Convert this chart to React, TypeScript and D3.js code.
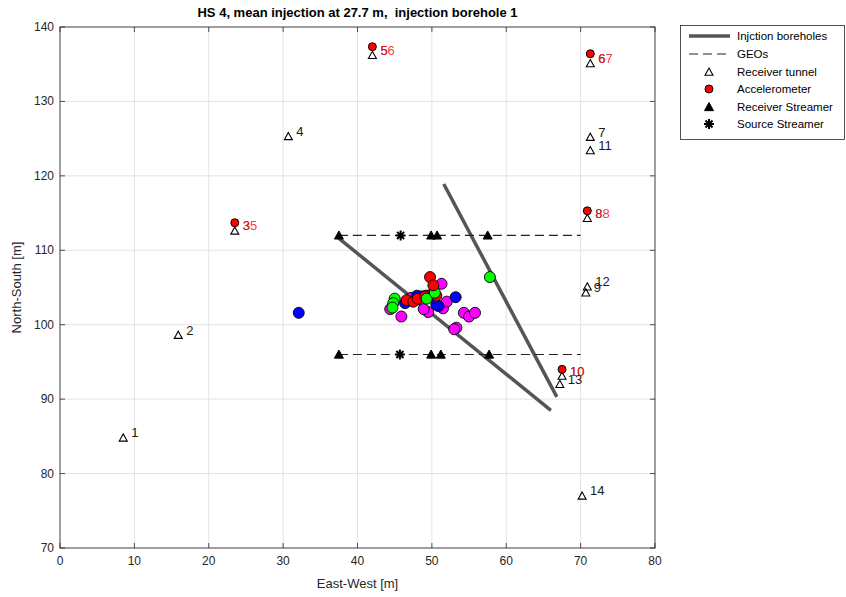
import React from "react";
import * as d3 from "d3";

const TITLE = "HS 4, mean injection at 27.7 m,  injection borehole 1";
const X_TICKS = [0, 10, 20, 30, 40, 50, 60, 70, 80];
const Y_TICKS = [70, 80, 90, 100, 110, 120, 130, 140];

// Receiver tunnel [x, y, label]
const RECEIVERS: [number, number, string][] = [
  [8.5, 84.8, "1"],
  [15.9, 98.6, "2"],
  [23.5, 112.6, "3"],
  [30.7, 125.3, "4"],
  [42.0, 136.2, "5"],
  [71.3, 135.1, "6"],
  [71.3, 125.2, "7"],
  [70.9, 114.3, "8"],
  [70.7, 104.3, "9"],
  [67.5, 93.1, "10"],
  [71.3, 123.4, "11"],
  [70.9, 105.1, "12"],
  [67.2, 92.0, "13"],
  [70.2, 77.0, "14"],
];

// Accelerometers [x, y, label]
const ACCELS: [number, number, string][] = [
  [23.5, 113.7, "35"],
  [42.0, 137.35, "56"],
  [71.3, 136.4, "67"],
  [70.9, 115.3, "88"],
  [67.5, 94.0, "10"],
];

const STREAMER_RX: [number, number][] = [
  [37.5, 112], [49.9, 112], [50.7, 112], [57.5, 112],
  [37.5, 96], [49.9, 96], [51.2, 96], [57.7, 96],
];
const STREAMER_SRC: [number, number][] = [
  [45.8, 112], [45.7, 96],
];
const GEOS: [number, number][][] = [
  [[37.5, 112], [70, 112]],
  [[37.5, 96], [70, 96]],
];
const BOREHOLES: [number, number][][] = [
  [[37.5, 111.6], [66.0, 88.5]],
  [[51.6, 118.9], [66.8, 90.3]],
];

// Events [x, y, colour class]
const EVENTS: [number, number, string][] = [
  [32.1, 101.6, "b"],
  [57.8, 106.4, "g"],
  [53.3, 99.6, "m"],
  [53.0, 99.4, "m"],
  [54.3, 101.6, "m"],
  [55.0, 101.1, "m"],
  [55.8, 101.6, "m"],
  [45.9, 101.1, "m"],
  [44.4, 102.1, "m"],
  [49.5, 101.7, "m"],
  [48.9, 102.1, "m"],
  [51.5, 102.2, "m"],
  [52.0, 103.1, "m"],
  [53.2, 103.7, "b"],
  [50.9, 102.5, "b"],
  [50.6, 102.7, "b"],
  [46.4, 102.9, "b"],
  [47.2, 103.6, "m"],
  [48.6, 103.8, "b"],
  [49.8, 104.0, "m"],
  [48.0, 103.9, "b"],
  [49.2, 103.9, "m"],
  [50.3, 103.6, "b"],
  [47.8, 103.3, "m"],
  [50.6, 103.9, "r"],
  [46.6, 103.3, "r"],
  [47.5, 103.1, "r"],
  [48.1, 103.5, "r"],
  [49.1, 103.8, "r"],
  [45.0, 103.5, "g"],
  [44.8, 102.9, "g"],
  [44.7, 102.3, "g"],
  [49.3, 103.5, "g"],
  [50.4, 104.3, "g"],
  [51.3, 105.5, "m"],
  [49.75, 106.4, "r"],
  [50.2, 105.3, "r"],
];

const COLORS: Record<string, string> = {
  r: "#ff0000",
  g: "#00ff00",
  b: "#0000ff",
  m: "#ff00ff",
};

const FONT = "'Liberation Sans', Arial, Helvetica, sans-serif";
const AX = "#262626";

const W = 846;
const H = 597;
const PL = 60, PR = 655, PT = 27, PB = 548;

function triPath(cx: number, cy: number, s: number) {
  const h = s * 0.9;
  return `M${cx},${cy - h * 0.55}L${cx + s / 2},${cy + h * 0.45}L${cx - s / 2},${cy + h * 0.45}Z`;
}

function starPath(cx: number, cy: number, r: number) {
  let p = "";
  for (let i = 0; i < 4; i++) {
    const a = (i * Math.PI) / 4;
    const dx = Math.cos(a) * r, dy = Math.sin(a) * r;
    p += `M${cx - dx},${cy - dy}L${cx + dx},${cy + dy}`;
  }
  return p;
}

export default function App() {
  const x = d3.scaleLinear().domain([0, 80]).range([PL, PR]);
  const y = d3.scaleLinear().domain([70, 140]).range([PB, PT]);
  const line = d3.line<[number, number]>().x((d) => x(d[0])).y((d) => y(d[1]));

  const legY = [36, 54, 72, 89, 107, 124];
  const legItems = [
    "Injction boreholes",
    "GEOs",
    "Receiver tunnel",
    "Accelerometer",
    "Receiver Streamer",
    "Source Streamer",
  ];

  return (
    <div style={{ position: "absolute", left: 0, top: 0 }}>
      <svg width={W} height={H} style={{ display: "block", fontFamily: FONT }}>
        <rect x={0} y={0} width={W} height={H} fill="#fff" />
        <rect x={PL} y={PT} width={PR - PL} height={PB - PT} fill="#fff" />
        {/* grid */}
        {X_TICKS.map((t) => (
          <line key={"gx" + t} x1={x(t)} x2={x(t)} y1={PT} y2={PB} stroke="#e3e3e3" strokeWidth={1} />
        ))}
        {Y_TICKS.map((t) => (
          <line key={"gy" + t} x1={PL} x2={PR} y1={y(t)} y2={y(t)} stroke="#e3e3e3" strokeWidth={1} />
        ))}
        {/* box */}
        <rect x={PL} y={PT} width={PR - PL} height={PB - PT} fill="none" stroke={AX} strokeWidth={0.8} />
        {/* ticks */}
        {X_TICKS.map((t) => (
          <g key={"tx" + t}>
            <line x1={x(t)} x2={x(t)} y1={PB} y2={PB - 5} stroke={AX} strokeWidth={0.8} />
            <line x1={x(t)} x2={x(t)} y1={PT} y2={PT + 5} stroke={AX} strokeWidth={0.8} />
            <text x={x(t)} y={PB + 17} fontSize={12} fill={AX} textAnchor="middle">{t}</text>
          </g>
        ))}
        {Y_TICKS.map((t) => (
          <g key={"ty" + t}>
            <line x1={PL} x2={PL + 5} y1={y(t)} y2={y(t)} stroke={AX} strokeWidth={0.8} />
            <line x1={PR} x2={PR - 5} y1={y(t)} y2={y(t)} stroke={AX} strokeWidth={0.8} />
            <text x={PL - 6} y={y(t) + 4} fontSize={12} fill={AX} textAnchor="end">{t}</text>
          </g>
        ))}
        <text x={(PL + PR) / 2} y={588} fontSize={13} fill={AX} textAnchor="middle">East-West [m]</text>
        <text transform={`translate(21,${(PT + PB) / 2}) rotate(-90)`} fontSize={13} fill={AX} textAnchor="middle">North-South [m]</text>
        <text x={(PL + PR) / 2} y={17} fontSize={13} fontWeight="bold" fill="#000" textAnchor="middle" style={{ whiteSpace: "pre" }}>{TITLE}</text>

        {/* boreholes */}
        {BOREHOLES.map((b, i) => (
          <path key={"bh" + i} d={line(b) || ""} stroke="#555555" strokeWidth={3.5} fill="none" />
        ))}
        {/* GEOs */}
        {GEOS.map((g, i) => (
          <path key={"geo" + i} d={line(g) || ""} stroke="#222" strokeWidth={1.1} strokeDasharray="9,5" fill="none" />
        ))}
        {/* receiver tunnel */}
        {RECEIVERS.map(([a, b], i) => (
          <path key={"rc" + i} d={triPath(x(a), y(b), 8)} fill="none" stroke="#000" strokeWidth={1.1} />
        ))}
        {RECEIVERS.map(([a, b, l], i) => (
          <text key={"rl" + i} x={x(a) + 8} y={y(b) - 5} dy="0.35em" fontSize={13} fill="#1a1a1a">{l}</text>
        ))}
        {/* accelerometers */}
        {ACCELS.map(([a, b], i) => (
          <circle key={"ac" + i} cx={x(a)} cy={y(b)} r={4} fill="#ff0000" stroke="#000" strokeWidth={1} />
        ))}
        {ACCELS.map(([a, b, l], i) => {
          const r = RECEIVERS.find((d) => Math.abs(d[0] - a) < 0.01 && Math.abs(d[1] - b) < 2)!;
          return (
            <text key={"al" + i} x={x(r[0]) + 8} y={y(r[1]) - 5} dy="0.35em" fontSize={13} fill="#ff2020" fillOpacity={0.9}>{l}</text>
          );
        })}
        {/* streamers */}
        {STREAMER_RX.map(([a, b], i) => (
          <path key={"sr" + i} d={triPath(x(a), y(b), 9)} fill="#000" stroke="#000" strokeWidth={1} />
        ))}
        {STREAMER_SRC.map(([a, b], i) => (
          <path key={"ss" + i} d={starPath(x(a), y(b), 5)} stroke="#000" strokeWidth={2} fill="none" />
        ))}
        {/* events */}
        {EVENTS.map(([a, b, c], i) => (
          <circle key={"ev" + i} cx={x(a)} cy={y(b)} r={5.5} fill={COLORS[c]} stroke="#000" strokeWidth={0.9} />
        ))}

        {/* legend */}
        <rect x={680.5} y={25.5} width={164} height={114} fill="#fff" stroke={AX} strokeWidth={0.8} />
        <line x1={689} x2={730} y1={legY[0]} y2={legY[0]} stroke="#555555" strokeWidth={3.5} />
        <line x1={689} x2={730} y1={legY[1]} y2={legY[1]} stroke="#222" strokeWidth={1.1} strokeDasharray="9,5" />
        <path d={triPath(709, legY[2], 8)} fill="none" stroke="#000" strokeWidth={1.1} />
        <circle cx={709} cy={legY[3]} r={4} fill="#ff0000" stroke="#000" strokeWidth={1} />
        <path d={triPath(709, legY[4], 9)} fill="#000" stroke="#000" strokeWidth={1} />
        <path d={starPath(709, legY[5], 5)} stroke="#000" strokeWidth={2} fill="none" />
        {legItems.map((t, i) => (
          <text key={"lg" + i} x={737} y={legY[i]} dy="0.35em" fontSize={11.5} fill="#000">{t}</text>
        ))}
      </svg>
    </div>
  );
}
